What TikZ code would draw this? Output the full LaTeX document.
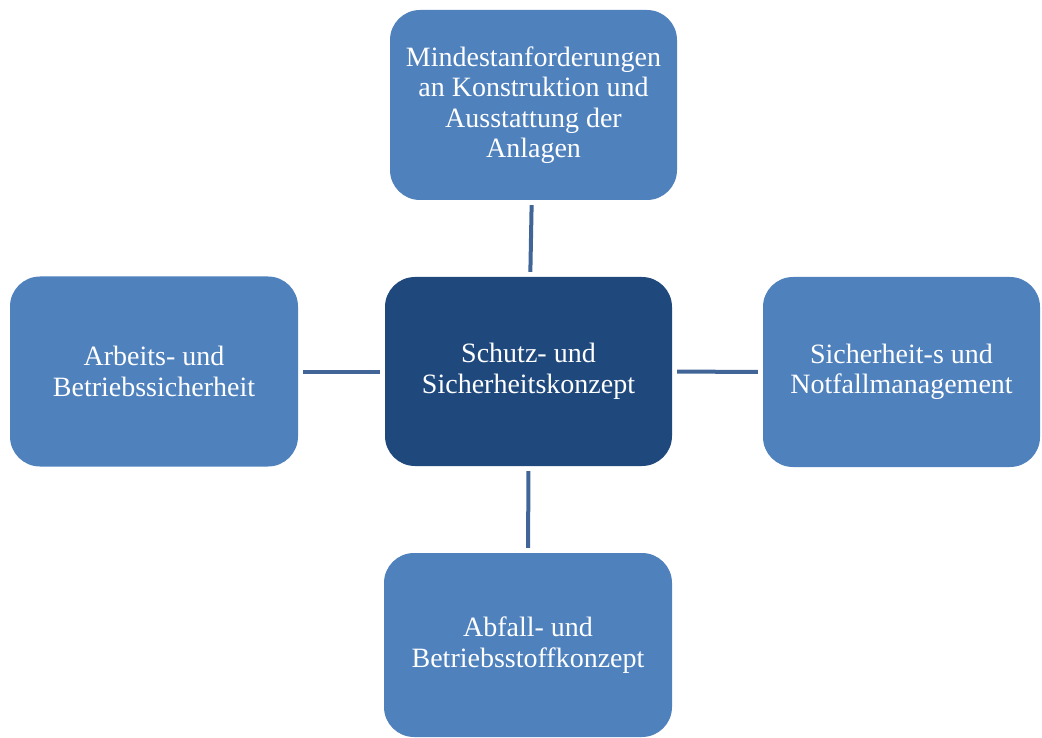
\documentclass[tikz,border=0pt]{standalone}
\usepackage{fontspec}
\setmainfont{Liberation Serif}
\definecolor{hell}{RGB}{79,129,189}
\definecolor{dunkel}{RGB}{31,73,125}
\definecolor{linie}{RGB}{64,101,150}
\tikzstyle{ot} = [fill=hell, text=white, rectangle, rounded corners=30pt, align=center, font=\fontsize{28}{30.5}\selectfont, inner sep=0pt]
\tikzstyle{th} = [ot, fill=dunkel]
\tikzstyle{verb} = [draw=linie, line width=4pt, shorten <=5pt, shorten >=5pt]

\begin{document}
\begin{tikzpicture}[x=1pt,y=-1pt]
	\useasboundingbox (0,0) rectangle (1042,738);

	\node [th, minimum width=287pt, minimum height=189pt] (konzept) at (528.5,371.5){%
		Schutz- und\\ Sicherheitskonzept
	};
	\node [ot, minimum width=287pt, minimum height=190pt] (anlagen) at (533.5,105){%
		Mindestanforderungen\\ an Konstruktion und\\ Ausstattung der\\ Anlagen
	};
	\node [ot, minimum width=288pt, minimum height=190pt] (arbeit) at (154,371.5){%
		Arbeits- und\\ Betriebssicherheit
	};
	\node [ot, minimum width=277pt, minimum height=190pt] (notfall) at (901.5,372){%
		Sicherheit-s und\\ Notfallmanagement
	};
	\node [ot, minimum width=288pt, minimum height=184pt] (abfall) at (528,645){%
		Abfall- und\\ Betriebsstoffkonzept
	};

	\draw [verb] (anlagen) -- (konzept);
	\draw [verb] (arbeit) -- (konzept);
	\draw [verb] (notfall) -- (konzept);
	\draw [verb] (abfall) -- (konzept);
\end{tikzpicture}
\end{document}
